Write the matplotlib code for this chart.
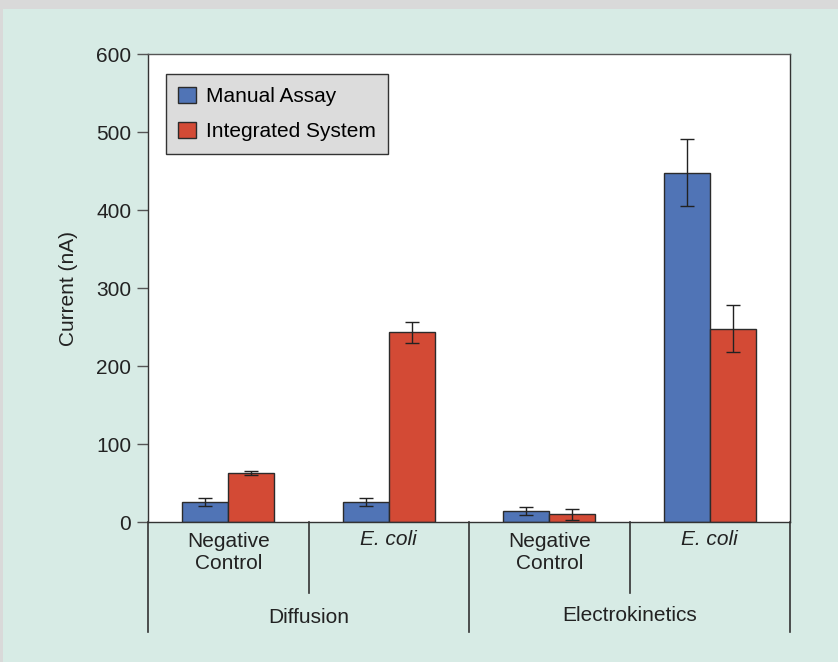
import matplotlib.pyplot as plt
from matplotlib.patches import Rectangle, Patch
from matplotlib.transforms import blended_transform_factory
import numpy as np

plt.rcParams['font.family'] = ['Liberation Sans', 'DejaVu Sans']

# data
categories = ["Negative\nControl", "E. coli", "Negative\nControl", "E. coli"]
groups = ["Diffusion", "Electrokinetics"]
manual = [26, 26, 14, 448]
manual_err = [5, 5, 5, 43]
integrated = [63, 243, 10, 248]
integrated_err = [3, 14, 7, 30]

blue = '#5074b6'
red = '#d34a35'
mint = '#d7ebe5'
fs = 15

fig = plt.figure(figsize=(8.38, 6.62), dpi=100)
fig.patch.set_facecolor(mint)
# grey frame strips on the top and left edge
fig.patches.append(Rectangle((0, 1 - 9 / 662), 1, 9 / 662, transform=fig.transFigure,
                             facecolor='#d9d9d9', edgecolor='none', zorder=-10))
fig.patches.append(Rectangle((0, 0), 3 / 838, 1, transform=fig.transFigure,
                             facecolor='#d9d9d9', edgecolor='none', zorder=-10))

ax = fig.add_axes([148 / 838, 1 - 522 / 662, 642 / 838, 468 / 662])
x = np.arange(len(categories))
w = 0.287
ax.bar(x - w / 2, manual, w, color=blue, edgecolor='#2b2b2b', linewidth=1, zorder=2)
ax.bar(x + w / 2, integrated, w, color=red, edgecolor='#2b2b2b', linewidth=1, zorder=2)
ax.errorbar(x - w / 2, manual, yerr=manual_err, fmt='none', ecolor='#222222',
            elinewidth=1, capsize=5, capthick=1, zorder=3)
ax.errorbar(x + w / 2, integrated, yerr=integrated_err, fmt='none', ecolor='#222222',
            elinewidth=1, capsize=5, capthick=1, zorder=3)

ax.set_xlim(-0.5, 3.5)
ax.set_ylim(0, 600)
ax.set_yticks(range(0, 601, 100))
ax.tick_params(axis='y', length=8, width=1, color='#555555', labelsize=fs, pad=4, labelcolor='#222222')
ax.set_xticks([])
for s in ax.spines.values():
    s.set_color('#333333')
    s.set_linewidth(1)
ax.spines['top'].set_color('#555555')
ax.set_ylabel("Current (nA)", fontsize=fs, color='#222222', labelpad=13)

# category axis below the plot
tr = blended_transform_factory(ax.transData, ax.transAxes)
for xb in [-0.5, 1.5, 3.5]:
    ax.plot([xb, xb], [0, -0.235], transform=tr, color='#333333', lw=1.2, clip_on=False)
for xb in [0.5, 2.5]:
    ax.plot([xb, xb], [0, -0.152], transform=tr, color='#333333', lw=1.2, clip_on=False)
for xi, lab in zip(x, categories):
    if lab == "E. coli":
        ax.text(xi, -0.038, lab, transform=tr, ha='center', va='center', fontsize=fs,
                style='italic', color='#222222')
    else:
        ax.text(xi, -0.065, lab, transform=tr, ha='center', va='center', fontsize=fs,
                color='#222222', linespacing=1.2)
for gi, g in enumerate(groups):
    ax.text(gi * 2 + 0.5, -0.203 + gi * 0.004, g, transform=tr, ha='center', va='center',
            fontsize=fs, color='#222222')

handles = [Patch(facecolor=blue, edgecolor='#2b2b2b', label='Manual Assay'),
           Patch(facecolor=red, edgecolor='#2b2b2b', label='Integrated System')]
leg = ax.legend(handles=handles, loc='upper left', bbox_to_anchor=(0.028, 0.957),
                fontsize=fs, frameon=True, fancybox=False, handlelength=0.85,
                handleheight=0.85, handletextpad=0.45, borderpad=0.6, labelspacing=0.75,
                borderaxespad=0)
leg.get_frame().set_facecolor('#dcdcdc')
leg.get_frame().set_edgecolor('#333333')
leg.get_frame().set_alpha(1)

fig.savefig("out.png", dpi=100, facecolor=fig.get_facecolor())
